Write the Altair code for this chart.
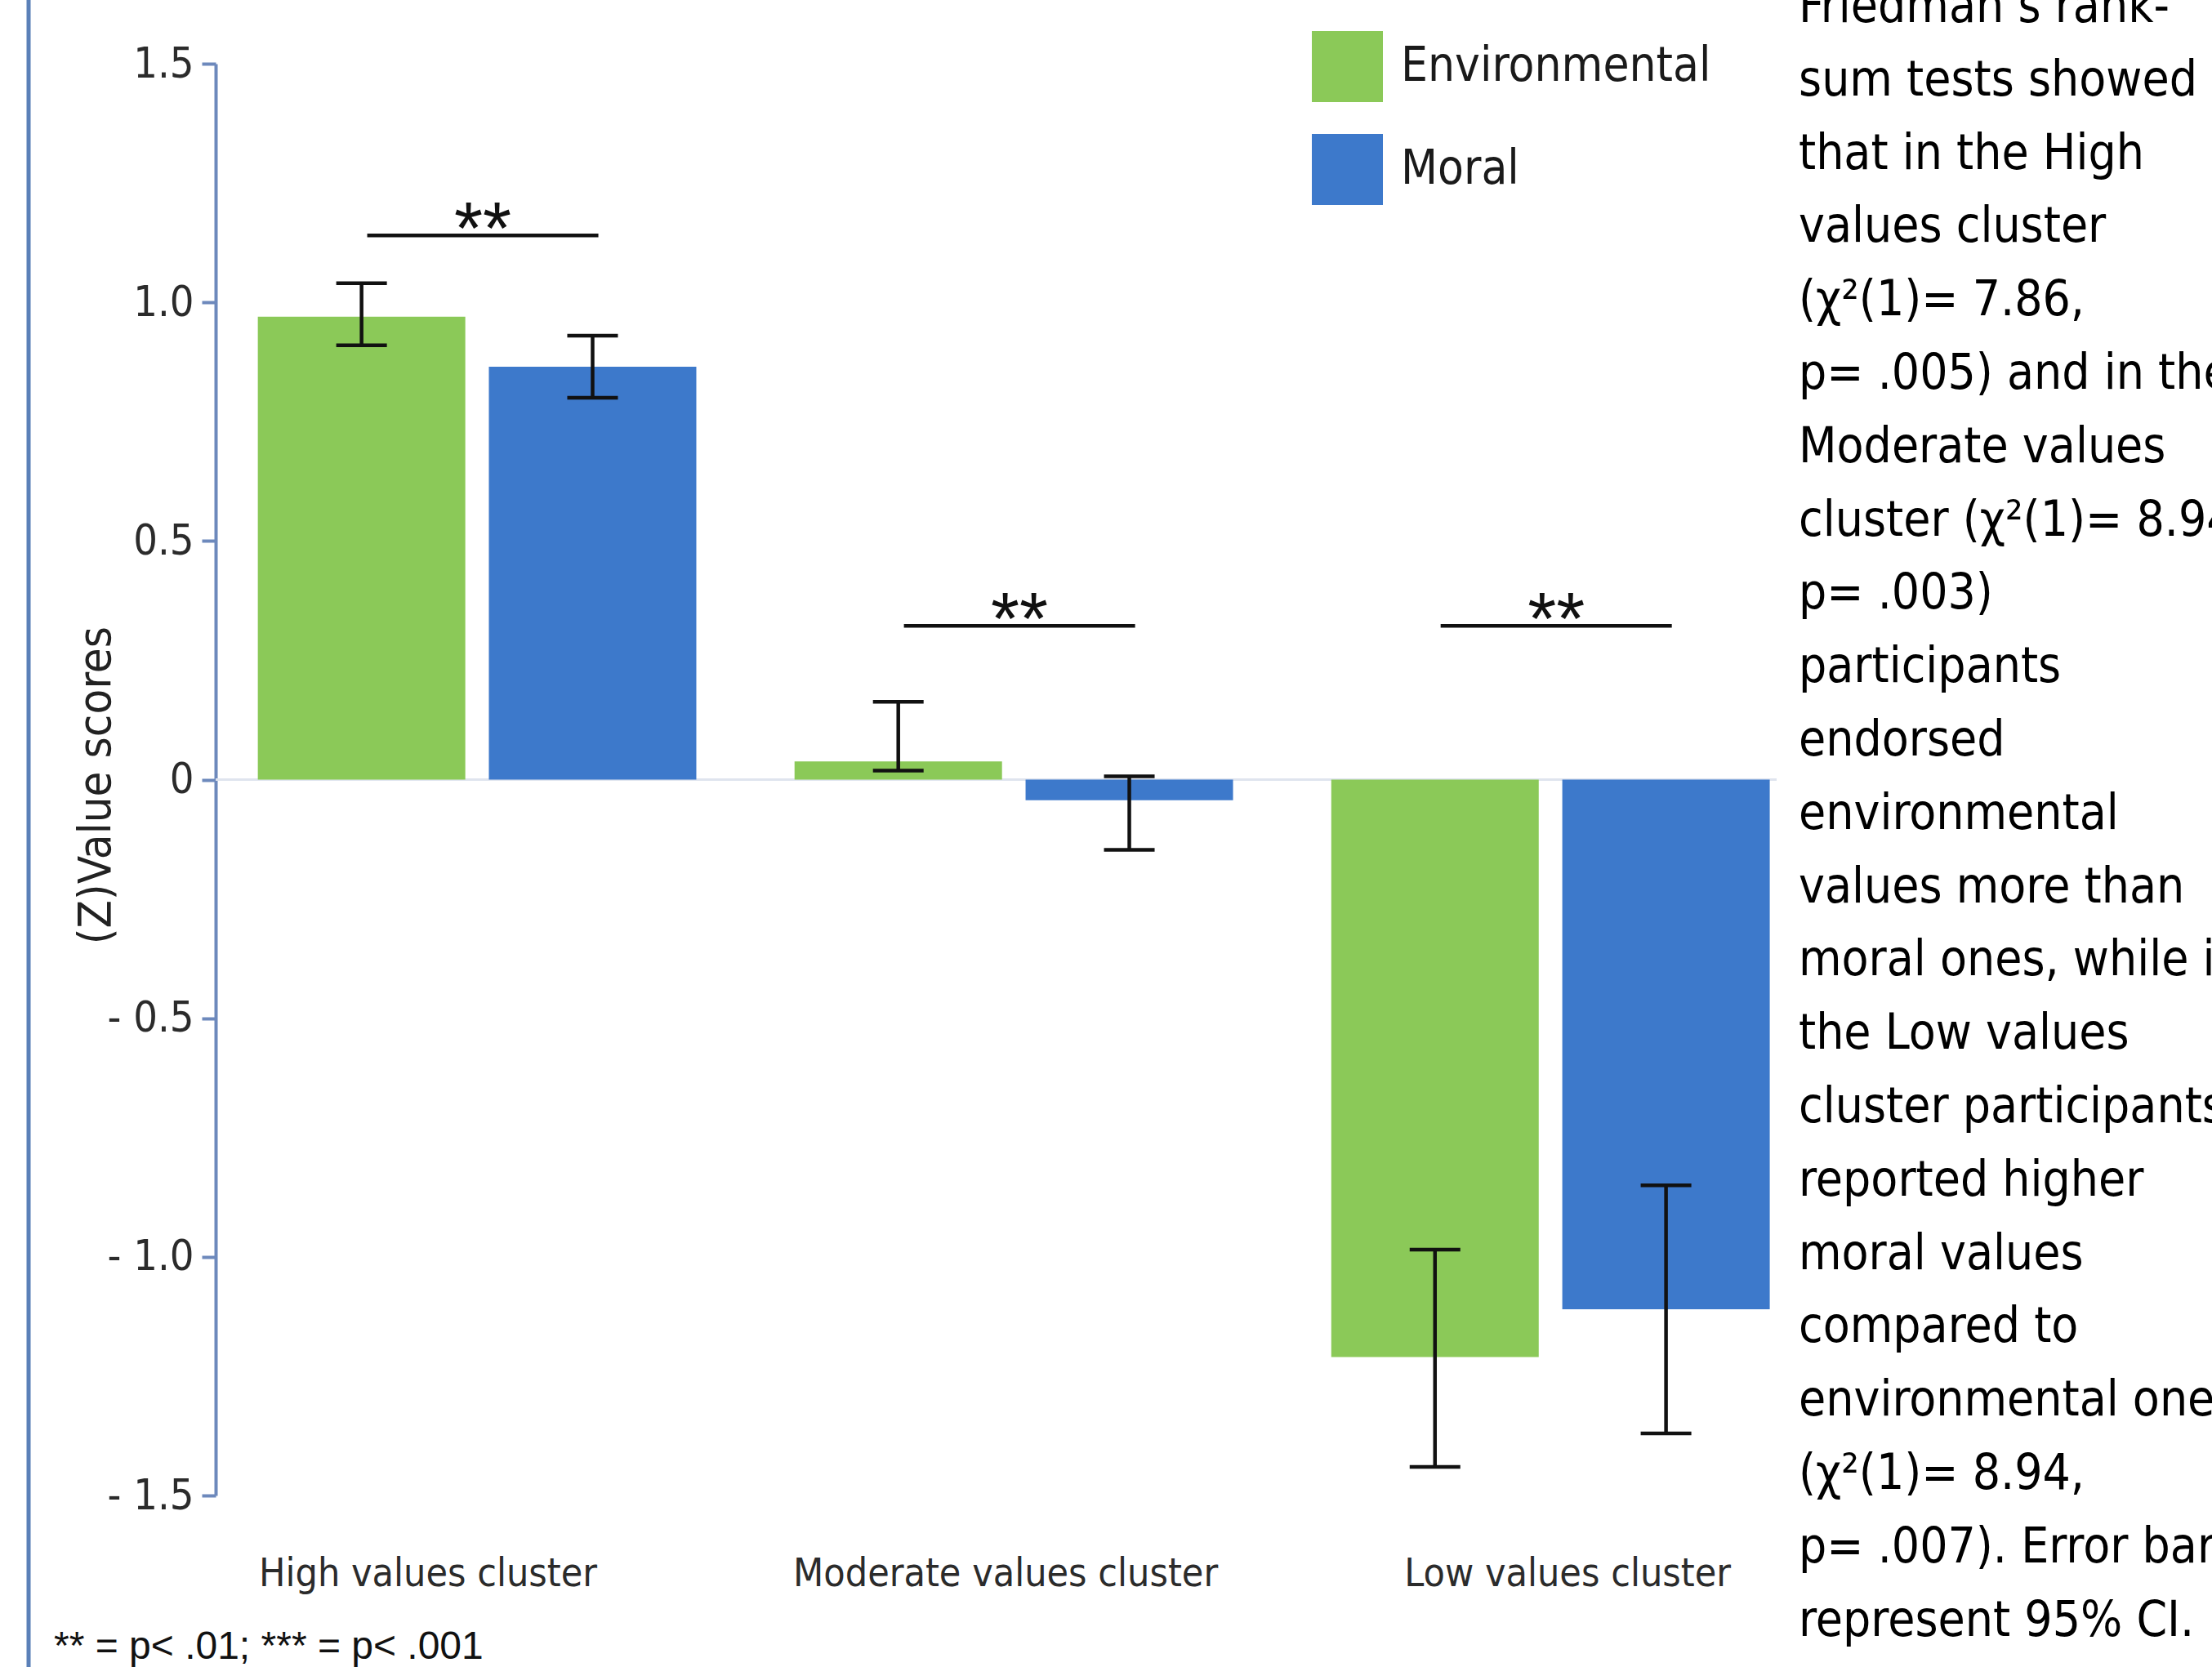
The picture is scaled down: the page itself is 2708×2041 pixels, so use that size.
import altair as alt
import pandas as pd

# ---- data -------------------------------------------------------------
clusters = ["High values cluster", "Moderate values cluster", "Low values cluster"]
series = ["Environmental", "Moral"]
series_colors = ["#8bc958", "#3d79cb"]

env_mean = [0.97, 0.038, -1.21]
env_ci_low = [0.91, 0.019, -1.44]
env_ci_high = [1.04, 0.163, -0.985]

moral_mean = [0.865, -0.043, -1.11]
moral_ci_low = [0.80, -0.147, -1.37]
moral_ci_high = [0.93, 0.007, -0.85]

sig_level = [1.14, 0.322, 0.322]
sig_marks = ["**", "**", "**"]

y_ticks = [-1.5, -1.0, -0.5, 0, 0.5, 1.0, 1.5]

footnote = "** = p< .01; *** = p< .001"
caption_lines = [
    "Friedman\u2019s rank-",
    "sum tests showed",
    "that in the High",
    "values cluster",
    "(\u03c7\u00b2(1)= 7.86,",
    "p= .005) and in the",
    "Moderate values",
    "cluster (\u03c7\u00b2(1)= 8.94,",
    "p= .003)",
    "participants",
    "endorsed",
    "environmental",
    "values more than",
    "moral ones, while in",
    "the Low values",
    "cluster participants",
    "reported higher",
    "moral values",
    "compared to",
    "environmental ones",
    "(\u03c7\u00b2(1)= 8.94,",
    "p= .007). Error bars",
    "represent 95% CI.",
]

# ---- tables -----------------------------------------------------------
rows = []
for i, c in enumerate(clusters):
    rows.append(dict(cluster=c, series="Environmental", mean=env_mean[i],
                     lo=env_ci_low[i], hi=env_ci_high[i]))
    rows.append(dict(cluster=c, series="Moral", mean=moral_mean[i],
                     lo=moral_ci_low[i], hi=moral_ci_high[i]))
bars_df = pd.DataFrame(rows)
sig_df = pd.DataFrame({"cluster": clusters, "level": sig_level, "label": sig_marks})

# ---- styling ----------------------------------------------------------
COND = "DejaVu Sans Condensed, Liberation Sans Narrow, Roboto, sans-serif"
AXIS_BLUE = "#6d89bc"
INK = "#111111"

W, H = 1911, 1753

yscale = alt.Scale(domain=[-1.5, 1.5], nice=False)

xaxis = alt.Axis(
    title=None, domain=False, ticks=False, tickSize=0, labelAngle=0,
    labelFont=COND, labelFontSize=48, labelColor="#2b2b2b",
    labelPadding=72, labelLimit=0,
    labelOffset={
        "condition": [
            {"test": "datum.value === 'High values cluster'", "value": -60},
            {"test": "datum.value === 'Low values cluster'", "value": 21},
        ],
        "value": -10,
    },
)
X = alt.X("cluster:N", sort=clusters, axis=xaxis,
          scale=alt.Scale(paddingInner=0.183, paddingOuter=0.0457, align=0.86))
XO = alt.XOffset("series:N", sort=series,
                 scale=alt.Scale(paddingInner=0.102, paddingOuter=0))

yaxis = alt.Axis(
    values=y_ticks, grid=False,
    title="(Z)Value scores", titleFont=COND, titleFontSize=56,
    titleFontWeight="normal", titleColor="#222222", titleAngle=270,
    titleX=-147, titleY=883, titleAlign="center", titleBaseline="middle",
    labelFont=COND, labelFontSize=52, labelColor="#2b2b2b", labelPadding=10,
    labelExpr="datum.value == 0 ? '0' : (datum.value < 0 ? '- ' + format(-datum.value, '.1f') : format(datum.value, '.1f'))",
    domainColor=AXIS_BLUE, domainWidth=4,
    tickColor=AXIS_BLUE, tickWidth=4, tickSize=17,
)


def yenc(field):
    # every layer carries the same axis definition so the shared axis survives
    return alt.Y(field, scale=yscale, axis=yaxis)


legend = alt.Legend(
    orient="none", legendX=1342, legendY=-40, title=None,
    symbolType="square", symbolSize=7569, symbolStrokeWidth=0, symbolOpacity=1,
    labelFont=COND, labelFontSize=58, labelColor="#1a1a1a",
    labelOffset=22, rowPadding=39, labelLimit=0, padding=0,
)

# ---- layers -----------------------------------------------------------
frame = alt.Chart(pd.DataFrame({"edge": [0]})).mark_rule(
    color="#5b80b8", strokeWidth=5
).encode(x=alt.value(-229), y=alt.value(-78), y2=alt.value(1963))

zero_line = alt.Chart(pd.DataFrame({"level": [0]})).mark_rule(
    color="#dfe4ee", strokeWidth=3
).encode(y=yenc("level:Q"))

base = alt.Chart(bars_df)

bars = base.mark_bar().encode(
    x=X, xOffset=XO,
    y=yenc("mean:Q"),
    color=alt.Color("series:N", sort=series,
                    scale=alt.Scale(domain=series, range=series_colors),
                    legend=legend),
)

whiskers = base.mark_rule(color=INK, strokeWidth=4.5).encode(
    x=X, xOffset=XO, y=yenc("lo:Q"), y2="hi:Q",
)

cap_low = base.mark_tick(color=INK, size=62, thickness=4.5, opacity=1).encode(
    x=X, xOffset=XO, y=yenc("lo:Q")
)
cap_high = base.mark_tick(color=INK, size=62, thickness=4.5, opacity=1).encode(
    x=X, xOffset=XO, y=yenc("hi:Q")
)

sig_lines = alt.Chart(sig_df).mark_tick(
    color=INK, size=283, thickness=4.5, opacity=1, xOffset=7
).encode(x=X, y=yenc("level:Q"))

sig_text = alt.Chart(sig_df).mark_text(
    font="Liberation Sans, Arial, sans-serif", fontSize=90,
    baseline="alphabetic", dy=23, dx=7, color=INK,
).encode(x=X, y=yenc("level:Q"), text="label:N")

note = alt.Chart(pd.DataFrame({"note": [footnote]})).mark_text(
    align="left", baseline="alphabetic",
    font="Liberation Sans, Arial, sans-serif", fontSize=48, color=INK,
).encode(x=alt.value(-198), y=alt.value(1953), text="note:N")

caption = alt.Chart(pd.DataFrame({"caption": ["\n".join(caption_lines)]})).mark_text(
    align="left", baseline="top", lineBreak="\n", lineHeight=89.8,
    font=COND, fontSize=60, color="#000000",
).encode(x=alt.value(1938), y=alt.value(-98), text="caption:N")

chart = alt.layer(
    frame, zero_line, bars, whiskers, cap_low, cap_high,
    sig_lines, sig_text, note, caption,
).properties(
    width=W, height=H,
    autosize=alt.AutoSizeParams(type="none"),
    padding={"left": 264, "top": 78, "right": 2708 - 264 - W, "bottom": 2041 - 78 - H},
    background="white",
).configure_view(strokeWidth=0)

chart.save("out.html", embed_options={"renderer": "svg", "actions": False})
